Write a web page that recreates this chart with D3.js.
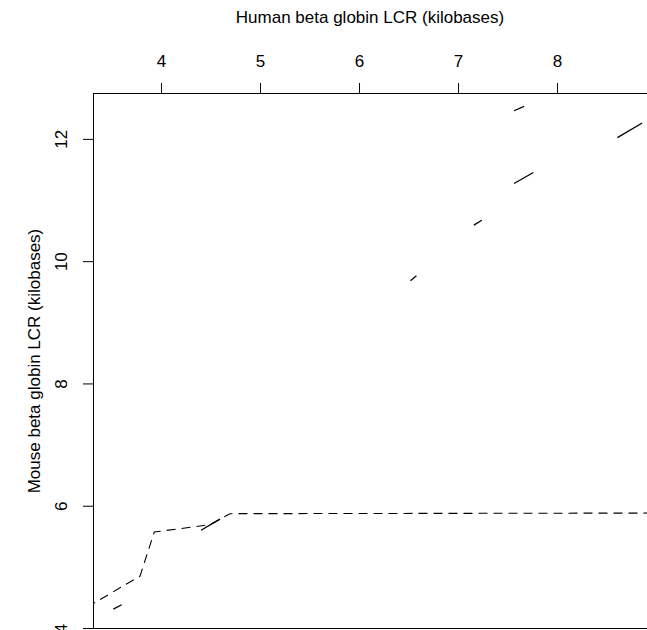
<!DOCTYPE html>
<html>
<head>
<meta charset="utf-8">
<script src="https://cdn.jsdelivr.net/npm/d3@7"></script>
<style>
  body { margin: 0; background: #fff; }
  svg text { font-family: "Liberation Sans", Arial, Helvetica, sans-serif; font-size: 17px; fill: #000; }
</style>
</head>
<body>
<svg id="chart" width="647" height="630"></svg>
<script>
// tick labels
var xTicks = [4, 5, 6, 7, 8];
var yTicks = [4, 6, 8, 10, 12];

// dashed chain (human kb, mouse kb)
var chainX = [3.25, 3.316, 3.788, 3.932, 4.495, 4.697, 8.95];
var chainY = [4.36, 4.40, 4.85, 5.57, 5.69, 5.87, 5.88];

// solid matches: start / end
var matchX1 = [3.518, 4.404, 7.566, 8.61, 7.566, 7.16, 6.52];
var matchY1 = [4.31, 5.60, 12.46, 12.02, 11.27, 10.59, 9.68];
var matchX2 = [3.603, 4.596, 7.667, 8.86, 7.761, 7.24, 6.58];
var matchY2 = [4.38, 5.78, 12.53, 12.26, 11.45, 10.67, 9.76];

var plot = {left: 93, top: 93, right: 648, bottom: 629};

var svg = d3.select('#chart');

var xs = d3.scaleLinear().domain([3.313, 8.919]).range([plot.left, plot.right]);
var ys = d3.scaleLinear().domain([3.984, 12.75]).range([plot.bottom, plot.top]);

svg.append('defs').append('clipPath').attr('id', 'plotclip')
    .append('rect')
    .attr('x', plot.left).attr('y', plot.top)
    .attr('width', plot.right - plot.left).attr('height', plot.bottom - plot.top);

// top axis
var gx = svg.append('g')
    .attr('transform', 'translate(0,' + plot.top + ')')
    .call(d3.axisTop(xs).tickValues(xTicks).tickSize(10).tickPadding(16).tickFormat(d3.format('d')));
gx.select('.domain').remove();
gx.selectAll('.tick line').attr('stroke', '#000');
gx.selectAll('.tick text').style('font-size', '17px');

// left axis, labels turned
var gy = svg.append('g')
    .attr('transform', 'translate(' + plot.left + ',0)')
    .call(d3.axisLeft(ys).tickValues(yTicks).tickSize(10).tickFormat(d3.format('d')));
gy.select('.domain').remove();
gy.selectAll('.tick line').attr('stroke', '#000');
gy.selectAll('.tick text')
    .attr('x', null).attr('dy', null)
    .attr('text-anchor', 'middle')
    .attr('transform', 'translate(-26,0) rotate(-90)')
    .style('font-size', '17px');

// box
svg.append('rect')
    .attr('x', plot.left + 0.5).attr('y', plot.top + 0.5)
    .attr('width', plot.right - plot.left).attr('height', plot.bottom - plot.top - 1)
    .attr('fill', 'none').attr('stroke', '#000').attr('stroke-width', 1);

// axis titles
svg.append('text')
    .attr('x', (plot.left + 647) / 2).attr('y', 23)
    .attr('text-anchor', 'middle')
    .text('Human beta globin LCR (kilobases)');

svg.append('text')
    .attr('transform', 'translate(40,' + (plot.top + plot.bottom) / 2 + ') rotate(-90)')
    .attr('text-anchor', 'middle')
    .text('Mouse beta globin LCR (kilobases)');

var g = svg.append('g').attr('clip-path', 'url(#plotclip)');

var chain = chainX.map(function (d, i) { return [d, chainY[i]]; });
var line = d3.line().x(function (d) { return xs(d[0]); }).y(function (d) { return ys(d[1]); });

g.append('path')
    .datum(chain)
    .attr('d', line)
    .attr('fill', 'none')
    .attr('stroke', '#000')
    .attr('stroke-width', 1.1)
    .attr('stroke-dasharray', '9,6');

var matches = matchX1.map(function (d, i) {
    return {x1: d, y1: matchY1[i], x2: matchX2[i], y2: matchY2[i]};
});

g.selectAll('line.match').data(matches).enter().append('line')
    .attr('class', 'match')
    .attr('x1', function (d) { return xs(d.x1); })
    .attr('y1', function (d) { return ys(d.y1); })
    .attr('x2', function (d) { return xs(d.x2); })
    .attr('y2', function (d) { return ys(d.y2); })
    .attr('stroke', '#000')
    .attr('stroke-width', 1.3);
</script>
</body>
</html>
